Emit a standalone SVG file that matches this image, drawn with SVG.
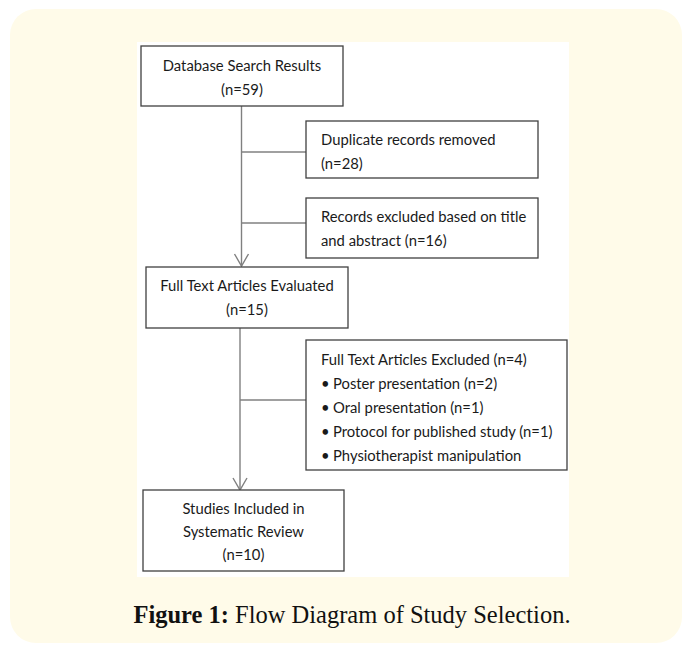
<svg xmlns="http://www.w3.org/2000/svg" width="691" height="651" viewBox="0 0 691 651">
<defs>
<style>
.box{fill:#ffffff;stroke:#404040;stroke-width:1.3}
.ln{fill:none;stroke:#808080;stroke-width:1.4}
.t{font-family:Lato,"Liberation Sans",sans-serif;font-size:14.8px;fill:#1a1a1a}
.c{text-anchor:middle}
.cap{font-family:"Liberation Serif",serif;font-size:24.5px;fill:#111}
</style>
</defs>
<rect x="0" y="0" width="691" height="651" fill="#ffffff"/>
<rect x="10" y="9" width="672" height="634" rx="26" ry="26" fill="#fffbe9"/>
<rect x="137" y="42" width="432" height="535" fill="#ffffff"/>
<g id="connectors">
<line class="ln" x1="241.5" y1="106" x2="241.5" y2="266"/>
<path class="ln" d="M234.5,254 L241.5,266 L248.5,254"/>
<line class="ln" x1="241.5" y1="152" x2="306" y2="152"/>
<line class="ln" x1="241.5" y1="223" x2="306" y2="223"/>
<line class="ln" x1="240" y1="328" x2="240" y2="490"/>
<path class="ln" d="M233,478 L240,490 L247,478"/>
<line class="ln" x1="240" y1="400" x2="306" y2="400"/>
</g>
<g id="n1">
<rect class="box" x="141" y="46" width="202" height="60"/>
<text class="t c" x="242" y="71">Database Search Results</text>
<text class="t c" x="242" y="95">(n=59)</text>
</g>
<g id="n2">
<rect class="box" x="306" y="121" width="232" height="57"/>
<text class="t" x="321" y="145">Duplicate records removed</text>
<text class="t" x="321" y="169">(n=28)</text>
</g>
<g id="n3">
<rect class="box" x="306" y="198" width="232" height="60"/>
<text class="t" x="321" y="222">Records excluded based on title</text>
<text class="t" x="321" y="246">and abstract (n=16)</text>
</g>
<g id="n4">
<rect class="box" x="146" y="267" width="202" height="61"/>
<text class="t c" x="247" y="291">Full Text Articles Evaluated</text>
<text class="t c" x="247" y="315">(n=15)</text>
</g>
<g id="n5">
<rect class="box" x="306" y="340" width="261" height="130"/>
<text class="t" x="321" y="365">Full Text Articles Excluded (n=4)</text>
<text class="t" x="321" y="389">•</text><text class="t" x="333" y="389">Poster presentation (n=2)</text>
<text class="t" x="321" y="413">•</text><text class="t" x="333" y="413">Oral presentation (n=1)</text>
<text class="t" x="321" y="437">•</text><text class="t" x="333" y="437">Protocol for published study (n=1)</text>
<text class="t" x="321" y="461">•</text><text class="t" x="333" y="461">Physiotherapist manipulation</text>
</g>
<g id="n6">
<rect class="box" x="143" y="490" width="201" height="81"/>
<text class="t c" x="243.5" y="514">Studies Included in</text>
<text class="t c" x="243.5" y="537">Systematic Review</text>
<text class="t c" x="243.5" y="560">(n=10)</text>
</g>
<text class="cap" x="352" y="623" text-anchor="middle"><tspan font-weight="bold">Figure 1:</tspan> Flow Diagram of Study Selection.</text>
</svg>
